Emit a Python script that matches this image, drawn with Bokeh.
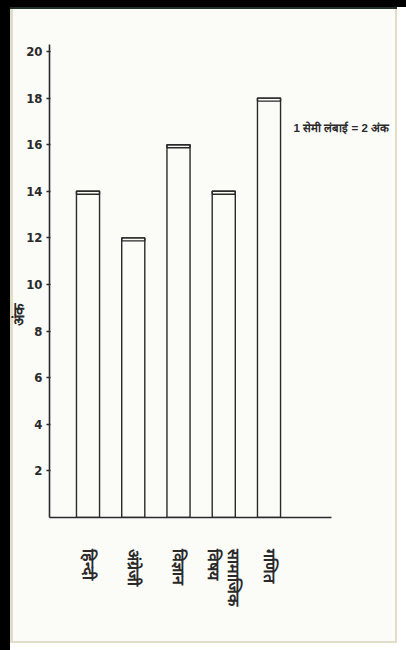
from bokeh.plotting import figure
from bokeh.models import FixedTicker, LinearAxis, InlineStyleSheet
from bokeh.embed import file_html
from bokeh.resources import INLINE

# ---- data ----
subjects = ["हिन्दी", "अंग्रेजी", "विज्ञान", "सामाजिक\nविषय", "गणित"]
marks = [14, 12, 16, 14, 18]
positions = [1, 2, 3, 4, 5]
y_ticks = [2, 4, 6, 8, 10, 12, 14, 16, 18, 20]
y_title = "अंक"
y_title_at = 8.7          # height (in marks) where the hand-written title sits
scale_note = "1 सेमी लंबाई = 2 अंक"
scale_note_at = 16.7

INK = "#2a2a2a"
PAPER = "#fbfbf8"
BEIGE = "#e2ddc6"

p = figure(width=406, height=650,
           x_range=(0.149, 6.381), y_range=(0, 20.3),
           output_backend="svg", toolbar_location=None,
           min_border_left=49, min_border_right=75,
           min_border_top=44, min_border_bottom=133)
p.background_fill_color = PAPER
p.border_fill_color = PAPER
p.border_fill_alpha = 0
p.outline_line_color = None
p.xgrid.visible = False
p.ygrid.visible = False

# bars
p.vbar(x=positions, top=marks, bottom=0, width=0.51,
       fill_color=PAPER, line_color=INK, line_width=1.4)
# doubled top edge
p.vbar(x=positions, top=marks, bottom=[m - 0.13 for m in marks], width=0.51,
       fill_color=None, line_color=INK, line_width=1.4)

# y axis
ya = p.yaxis[0]
ya.ticker = FixedTicker(ticks=y_ticks)
ya.axis_line_color = INK
ya.axis_line_width = 1.6
ya.major_tick_line_color = INK
ya.major_tick_line_width = 1.5
ya.major_tick_out = 3
ya.major_tick_in = 1
ya.minor_tick_line_color = None
ya.major_label_standoff = 4
ya.major_label_text_font = "DejaVu Sans Condensed, DejaVu Sans, sans-serif"
ya.major_label_text_font_size = "13px"
ya.major_label_text_font_style = "bold"
ya.major_label_text_color = INK

# second left axis carrying the y title at its hand-written height
ta = LinearAxis(ticker=FixedTicker(ticks=[y_title_at]),
                major_label_overrides={y_title_at: y_title},
                major_label_orientation="vertical",
                axis_line_color=None, major_tick_line_color=None,
                major_tick_out=0, major_tick_in=0,
                minor_tick_line_color=None, major_label_standoff=-4,
                major_label_text_font_size="15px",
                major_label_text_font_style="bold",
                major_label_text_color=INK)
p.add_layout(ta, "left")

# right axis carrying the scale note
ra = LinearAxis(ticker=FixedTicker(ticks=[scale_note_at]),
                major_label_overrides={scale_note_at: scale_note},
                axis_line_color=None, major_tick_line_color=None,
                major_tick_out=0, major_tick_in=0,
                minor_tick_line_color=None, major_label_standoff=-38,
                major_label_text_font_size="11.5px",
                major_label_text_font_style="bold",
                major_label_text_color=INK)
p.add_layout(ra, "right")

# x axis
xa = p.xaxis[0]
xa.ticker = FixedTicker(ticks=positions)
xa.major_label_overrides = {pos: s for pos, s in zip(positions, subjects)}
xa.major_label_orientation = "vertical"
xa.axis_line_color = INK
xa.axis_line_width = 1.6
xa.major_tick_out = 0
xa.major_tick_in = 0
xa.minor_tick_line_color = None
xa.major_label_standoff = 32
xa.major_label_text_font_size = "16px"
xa.major_label_text_font_style = "bold"
xa.major_label_text_color = INK

# scanned-page frame: black scan edge (top/left), paper edge lines
css = (":host { background-color: %s; box-shadow: "
       "inset 0 7px 0 0 #000, inset 10px 0 0 0 #000, "
       "inset -9px 0 0 0 #ffffff, inset 0 -7px 0 0 #ffffff, "
       "inset 0 9px 0 0 #22302a, "
       "inset 13px 0 0 0 %s, inset -11px 0 0 0 %s, inset 0 -9px 0 0 %s; }"
       % (PAPER, BEIGE, BEIGE, BEIGE))
p.stylesheets = [InlineStyleSheet(css=css)]

open("out.html", "w").write(file_html(p, INLINE))
